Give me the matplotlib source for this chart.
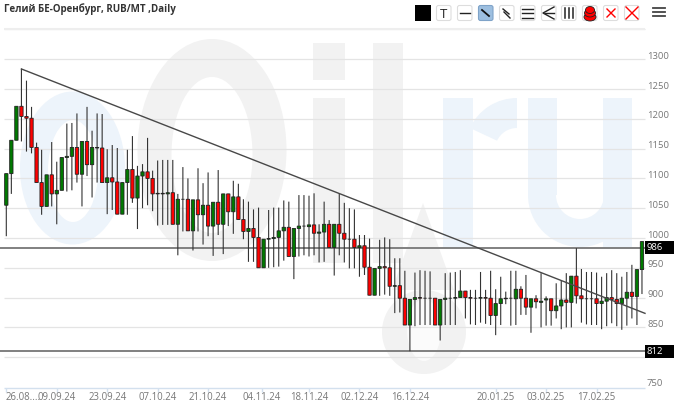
import matplotlib
matplotlib.use('Agg')
import matplotlib.pyplot as plt
from matplotlib.patches import Ellipse, Rectangle, Wedge, Polygon, Circle, FancyBboxPatch

title = 'Гелий БЕ-Оренбург, RUB/MT ,Daily'

opens = [1055, 1108, 1164, 1221, 1204, 1201, 1152, 1093, 1053, 1106,
         1074, 1080, 1135, 1137, 1152, 1107, 1162, 1123, 1152, 1151,
         1093, 1101, 1094, 1040, 1093, 1115, 1067, 1104, 1111, 1100,
         1074, 1075, 1074, 1076, 1023, 1065, 1065, 1012, 1064, 1039,
         1055, 1020, 1060, 1023, 1074, 1044, 1069, 1031, 1011, 1016,
         1001, 950, 998, 999, 1001, 1012, 1018, 969, 1016, 1020,
         1019, 1022, 1008, 1010, 1023, 984, 1023, 1008, 998, 998,
         984, 987, 951, 904, 949, 952, 950, 919, 920, 899,
         854, 897, 900, 899, 899, 899, 854, 897, 899, 899,
         900, 911, 900, 899, 899, 900, 899, 870, 890, 898,
         899, 898, 914, 899, 884, 898, 892, 896, 898, 878,
         886, 896, 892, 936, 903, 898, 898, 898, 890, 894,
         900, 897, 890, 899, 909, 902, 947]
closes = [1108, 1164, 1221, 1204, 1201, 1152, 1093, 1053, 1106, 1074,
          1080, 1135, 1137, 1152, 1107, 1162, 1123, 1152, 1151, 1093,
          1101, 1094, 1040, 1093, 1115, 1067, 1104, 1111, 1100, 1074,
          1075, 1074, 1076, 1023, 1065, 1065, 1012, 1064, 1039, 1055,
          1020, 1060, 1023, 1074, 1044, 1069, 1031, 1011, 1016, 1001,
          950, 998, 999, 1001, 1012, 1018, 969, 1016, 1020, 1020,
          1022, 1008, 1010, 1023, 984, 1023, 1008, 998, 998, 984,
          987, 951, 904, 949, 952, 950, 919, 920, 899, 854,
          897, 900, 899, 899, 899, 854, 897, 899, 899, 900,
          911, 900, 899, 899, 900, 899, 870, 890, 898, 899,
          899, 914, 899, 884, 898, 893, 894, 898, 878, 886,
          896, 892, 936, 903, 898, 898, 898, 890, 894, 900,
          897, 890, 899, 909, 902, 947, 994]
highs = [1108, 1164, 1221, 1284, 1264, 1220, 1160, 1148, 1106, 1161,
         1128, 1135, 1192, 1193, 1209, 1162, 1220, 1180, 1209, 1208,
         1149, 1156, 1151, 1093, 1148, 1171, 1121, 1124, 1168, 1113,
         1130, 1131, 1131, 1131, 1074, 1119, 1100, 1064, 1117, 1092,
         1110, 1060, 1114, 1074, 1074, 1096, 1091, 1065, 1061, 1048,
         1051, 998, 1047, 1051, 1051, 1063, 1061, 1016, 1072, 1072,
         1071, 1075, 1023, 1061, 1030, 1023, 1075, 1059, 1050, 1048,
         1005, 1005, 999, 949, 997, 1001, 998, 966, 966, 945,
         897, 942, 946, 945, 944, 899, 897, 941, 942, 943,
         946, 911, 913, 913, 943, 913, 945, 914, 935, 910,
         945, 945, 919, 938, 898, 904, 941, 902, 898, 924,
         928, 941, 936, 983, 948, 943, 943, 942, 935, 941,
         946, 941, 935, 943, 955, 947, 994]
lows = [1003, 1074, 1164, 1162, 1145, 1142, 1093, 1039, 1053, 1053,
        1023, 1080, 1078, 1080, 1093, 1053, 1104, 1068, 1093, 1093,
        1040, 1047, 1040, 1040, 1039, 1059, 1015, 1050, 1055, 1045,
        1021, 1022, 1022, 1023, 971, 1011, 1012, 979, 1011, 989,
        1003, 970, 1005, 973, 1020, 1007, 1031, 998, 960, 960,
        950, 950, 950, 951, 952, 962, 969, 931, 969, 971,
        969, 971, 959, 960, 984, 937, 971, 959, 949, 949,
        935, 938, 904, 904, 903, 905, 903, 874, 875, 854,
        810, 852, 854, 854, 854, 854, 828, 854, 854, 854,
        900, 865, 855, 854, 858, 856, 854, 837, 854, 889,
        853, 854, 871, 871, 841, 882, 850, 853, 853, 865,
        847, 850, 850, 890, 858, 855, 854, 854, 847, 852,
        857, 852, 846, 853, 865, 854, 906]

grid_levels = [1350, 1300, 1250, 1200, 1150, 1100, 1050, 1000, 950, 900, 850, 800]
y_labels = [1300, 1250, 1200, 1150, 1100, 1050, 1000, 950, 900, 850, 750]
x_pos = [0, 10, 20, 30, 40, 50.6, 60, 70, 80, 97, 107, 117]
x_labels = ['26.08....', '09.09.24', '23.09.24', '07.10.24', '21.10.24', '04.11.24',
            '18.11.24', '02.12.24', '16.12.24', '20.01.25', '03.02.25', '17.02.25']
trend_x = [3, 126.6]
trend_y = [1283.6, 873.6]
level_lines = [984, 810]
level_labels = ['986', '812']

fig = plt.figure(figsize=(6.8, 4.07), dpi=100)

# watermark and toolbar are drawn in pixel coordinates
bg = fig.add_axes([0, 0, 1, 1], zorder=1)
bg.set_xlim(0, 680)
bg.set_ylim(407, 0)
bg.axis('off')

blue = '#edf4fb'
gray = '#f2f2f2'
bg.add_patch(Ellipse((72.5, 168), 105, 153, color=blue, lw=0))
bg.add_patch(Ellipse((73, 171), 50, 102, color='white', lw=0))
bg.add_patch(Ellipse((212, 150), 149, 222, color=gray, lw=0))
bg.add_patch(Ellipse((212, 155), 81, 156, color='white', lw=0))
bg.add_patch(Rectangle((313, 43), 32, 37, color=gray, lw=0))
bg.add_patch(Rectangle((313, 98), 32, 165, color=gray, lw=0))
bg.add_patch(Rectangle((373, 43), 30, 220, color=gray, lw=0))
bg.add_patch(Polygon([(423, 203), (392, 290), (454, 290)], color=gray, lw=0))
bg.add_patch(Circle((424, 332), 42, color=gray, lw=0))
bg.add_patch(Ellipse((424, 330), 34, 62, color='#fbfbfb', lw=0))
bg.add_patch(Rectangle((443, 98), 30, 150, color=blue, lw=0))
bg.add_patch(Wedge((517, 150), 52, 205, 270, width=30, color=blue, lw=0))
bg.add_patch(Rectangle((528, 98), 29, 97, color=blue, lw=0))
bg.add_patch(Rectangle((603, 98), 29, 150, color=blue, lw=0))
bg.add_patch(Wedge((580, 195), 52, 0, 180, width=28, color=blue, lw=0))

bg.add_patch(Rectangle((415, 5), 16, 16, color='black', lw=0))
button_x = [436, 457, 478, 499, 520, 541, 561, 582, 603, 624]
for i, bx in enumerate(button_x):
    selected = i == 2
    bg.add_patch(FancyBboxPatch((bx + 1, 6), 13.5, 14, boxstyle='round,pad=0.5,rounding_size=2',
                                fc='#9dbfe0' if selected else 'white',
                                ec='#7fa3c8' if selected else '#dddddd', lw=0.8))
bg.text(444, 14, 'T', ha='center', va='center', fontsize=9.5, family='Open Sans', color='#222222')
bg.plot([460, 470], [13, 13], color='#222222', lw=1)
bg.plot([482, 489], [10, 16], color='#111111', lw=1.3)
bg.plot([503, 509], [9, 14], color='#222222', lw=1)
bg.plot([504, 510], [12, 18], color='#222222', lw=1)
for yy in [8.5, 13, 17.5]:
    bg.plot([522, 533], [yy, yy], color='#222222', lw=1)
bg.plot([554, 543, 554], [7, 13, 19], color='#222222', lw=1)
bg.plot([545, 554], [13, 13], color='#222222', lw=1)
for xx in [565, 569, 573]:
    bg.plot([xx, xx], [8, 18], color='#222222', lw=1.1)
bg.add_patch(Ellipse((590, 17), 12, 8, fc='red', ec='#222222', lw=0.6))
bg.add_patch(Ellipse((590, 13), 11, 8, fc='red', ec='#222222', lw=0.6))
bg.add_patch(Ellipse((590, 10), 9, 7, fc='red', ec='#222222', lw=0.6))
bg.plot([607, 615], [9, 17], color='red', lw=1)
bg.plot([607, 615], [17, 9], color='red', lw=1)
bg.plot([626, 638], [7, 19], color='red', lw=1)
bg.plot([626, 638], [19, 7], color='red', lw=1)
for yy in [8, 12, 16]:
    bg.plot([653, 665], [yy, yy], color='#444444', lw=1.3)

bg.text(4, 9.5, title, ha='left', va='center', fontsize=7, fontweight='bold',
        family='Open Sans', color='#333333')

# price chart, scales set so the candles land where they do in the reference
ax = fig.add_axes([0, 0, 1, 1], zorder=2)
ax.patch.set_alpha(0)
ax.set_xlim(-6.3 / 5.045, (680 - 6.3) / 5.045)
ax.set_ylim(1000 - 169 / 0.596, 1000 + 238 / 0.596)
ax.axis('off')

left = -0.45
right = 126.6
ax.hlines(grid_levels, left, right, color='#e4e4e4', lw=0.9, zorder=1)
ax.hlines(1350, left, right, color='#eeeeee', lw=1.5, zorder=1)
ax.hlines(749, left, right, color='#d3e0ee', lw=1, zorder=1)
ax.vlines(x_pos, 749, 741, color='#d3e0ee', lw=1, zorder=1)

ax.hlines(level_lines, -1.3, right, color='#808080', lw=1.4, zorder=2)

days = list(range(len(opens)))
wicks = ax.vlines(days, lows, highs, color='#333333', lw=0.8, zorder=3)
wicks.set_snap(False)
for d, o, c in zip(days, opens, closes):
    col = '#ff0000' if c < o else '#007a00'
    bars = ax.bar(d, abs(c - o), bottom=min(o, c), width=0.66, color=col,
                  edgecolor='#222222', lw=0.6, zorder=4)
    bars[0].set_snap(False)

ax.plot(trend_x, trend_y, color='#484848', lw=1, zorder=5)

for v in y_labels:
    ax.annotate(str(v), (127, v), xytext=(0, 3), textcoords='offset pixels', ha='left',
                va='center', fontsize=6.8, family='Open Sans', color='#777777')

for i, (p, s) in enumerate(zip(x_pos, x_labels)):
    ax.annotate(s, (p, 749), xytext=(-1 if i == 0 else 0, -10), textcoords='offset pixels',
                ha='left' if i == 0 else 'center', va='center', fontsize=6.9,
                family='Open Sans', color='#777777')

for v, s in zip(level_lines, level_labels):
    ax.add_patch(Rectangle((126.6, v - 11), 5.75, 22, fc='black', lw=0, zorder=6))
    ax.annotate(s, (126.6, v), xytext=(2, 0), textcoords='offset pixels', ha='left', va='center',
                fontsize=6.8, family='Open Sans', color='white', zorder=7)

fig.savefig('out.png', dpi=100)
